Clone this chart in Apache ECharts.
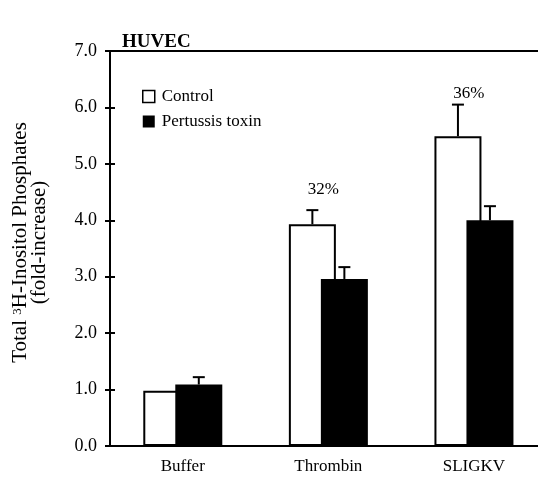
<!DOCTYPE html>
<html><head><meta charset="utf-8">
<script src="https://cdn.jsdelivr.net/npm/echarts@6/dist/echarts.min.js"></script>
<style>html,body{margin:0;padding:0;background:#fff}#c{width:538px;height:477px}</style>
</head><body><div id="c"></div>
<script>
const categories = ['Buffer', 'Thrombin', 'SLIGKV'];
const controlValues = [0.98, 3.93, 5.49];
const controlErrors = [0, 0.25, 0.56];
const toxinValues = [1.09, 2.96, 4.00];
const toxinErrors = [0.13, 0.21, 0.25];
const annotations = ['', '32%', '36%'];
const annotationY = [null, 4.55, 6.25];

const FONT = 'Liberation Serif';
const BAR_W = 47;
const OVERLAP = 15;
const OFF = (2 * BAR_W - OVERLAP) / 2 - BAR_W / 2;
const catIdx = categories.map((c, i) => i);

function errRender(offset) {
  return function (params, api) {
    const i = api.value(0), v = api.value(1), e = api.value(2);
    if (!e) return null;
    const base = api.coord([i, v]);
    const top = api.coord([i, v + e]);
    const x = base[0] + offset;
    return {
      type: 'group', children: [
        { type: 'line', shape: { x1: x, y1: base[1], x2: x, y2: top[1] }, style: { stroke: '#000', lineWidth: 2 } },
        { type: 'line', shape: { x1: x - 6, y1: top[1], x2: x + 6, y2: top[1] }, style: { stroke: '#000', lineWidth: 2 } }
      ]
    };
  };
}

const chart = echarts.init(document.getElementById('c'));
chart.setOption({
  animation: false,
  backgroundColor: '#fff',
  title: {
    text: 'HUVEC', left: 122, top: 33, padding: 0,
    textStyle: { fontFamily: FONT, fontWeight: 'bold', fontSize: 19, color: '#000' }
  },
  legend: {
    orient: 'vertical', left: 142, top: 88, padding: 0, itemWidth: 12, itemHeight: 12, itemGap: 8,
    textStyle: { fontFamily: FONT, fontSize: 17, color: '#000', padding: [0, 0, 0, 2] },
    data: [
      { name: 'Control', icon: 'rect', itemStyle: { color: '#fff', borderColor: '#000', borderWidth: 1.5 } },
      { name: 'Pertussis toxin', icon: 'rect', itemStyle: { color: '#000' } }
    ]
  },
  grid: { left: 110, right: 0, top: 51, bottom: 31 },
  xAxis: [{
    type: 'value', min: -0.5, max: 2.44,
    axisLine: { onZero: false, lineStyle: { color: '#000', width: 2 } },
    axisTick: { show: false },
    splitLine: { show: false },
    axisLabel: {
      fontFamily: FONT, fontSize: 17, color: '#000', margin: 12,
      customValues: catIdx, formatter: v => categories[Math.round(v)] || ''
    }
  }, {
    type: 'value', min: -0.5, max: 2.44, position: 'top',
    axisLine: { show: true, onZero: false, lineStyle: { color: '#000', width: 2 } },
    axisTick: { show: false }, axisLabel: { show: false }, splitLine: { show: false }
  }],
  yAxis: [{
    type: 'value', min: 0, max: 7, interval: 1,
    name: 'Total {sup|3}H-Inositol Phosphates\n(fold-increase)',
    nameLocation: 'middle', nameGap: 61, nameRotate: 90,
    nameTextStyle: {
      fontFamily: FONT, fontSize: 21, color: '#000', lineHeight: 19, align: 'center',
      padding: [0, 0, 0, 12],
      rich: { sup: { fontFamily: FONT, fontSize: 13, verticalAlign: 'top', padding: [0, 0, 8, 0] } }
    },
    axisLine: { show: true, onZero: false, lineStyle: { color: '#000', width: 2 } },
    axisTick: { show: true, length: 5, lineStyle: { color: '#000', width: 2 } },
    axisLabel: { fontFamily: FONT, fontSize: 18, color: '#000', margin: 13, formatter: v => v.toFixed(1) },
    splitLine: { show: false }
  }, {
    type: 'value', min: 0, max: 7, interval: 1, position: 'left',
    axisLine: { show: false, onZero: false },
    axisTick: { show: true, inside: true, length: 5, lineStyle: { color: '#000', width: 2 } },
    axisLabel: { show: false }, splitLine: { show: false }
  }],
  series: [{
    name: 'Control', type: 'bar', data: controlValues.map((v, i) => [i, v]),
    barWidth: BAR_W, barGap: (-OVERLAP / BAR_W * 100) + '%',
    itemStyle: { color: '#fff', borderColor: '#000', borderWidth: 2 }
  }, {
    name: 'Pertussis toxin', type: 'bar', data: toxinValues.map((v, i) => [i, v]), barWidth: BAR_W,
    itemStyle: { color: '#000' }
  }, {
    type: 'custom', renderItem: errRender(-OFF), z: 5,
    data: controlValues.map((v, i) => [i, v, controlErrors[i]])
  }, {
    type: 'custom', renderItem: errRender(OFF), z: 5,
    data: toxinValues.map((v, i) => [i, v, toxinErrors[i]])
  }, {
    type: 'custom', z: 6,
    renderItem: function (params, api) {
      const i = api.value(0);
      const txt = annotations[i];
      if (!txt) return null;
      const p = api.coord([i, api.value(1)]);
      return {
        type: 'text', x: p[0] - 5, y: p[1],
        style: { text: txt, fontFamily: FONT, fontSize: 17, fill: '#000', align: 'center', verticalAlign: 'middle' }
      };
    },
    data: annotationY.map((y, i) => [i, y == null ? 0 : y])
  }]
});
</script></body></html>
